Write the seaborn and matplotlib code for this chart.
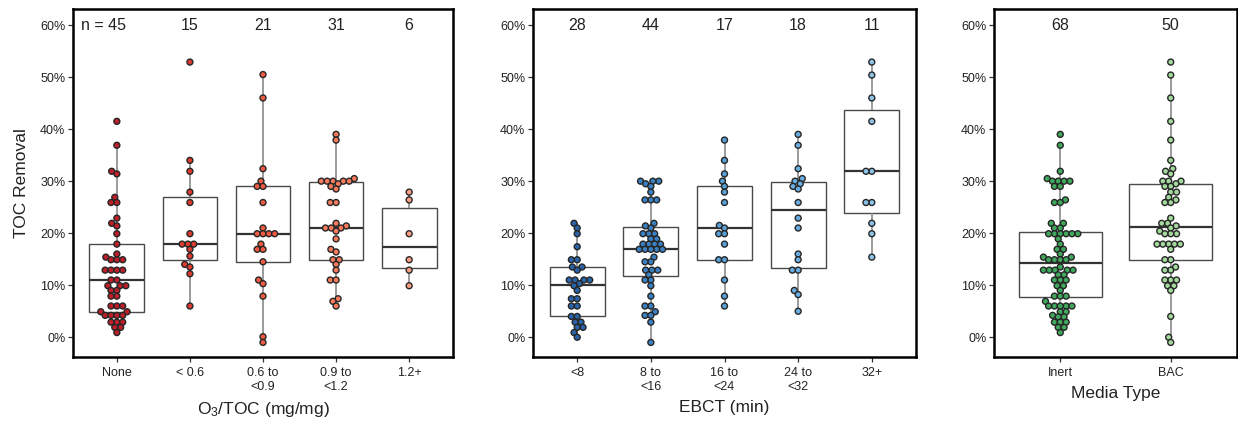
import numpy as np
import pandas as pd
import matplotlib
matplotlib.use("Agg")
import matplotlib.pyplot as plt
import seaborn as sns
from matplotlib.ticker import FuncFormatter

# ---------------- data (TOC removal, %) ----------------
o3_labels = ["None", "< 0.6", "0.6 to\n<0.9", "0.9 to\n<1.2", "1.2+"]
o3_none = [41.5, 36.9, 31.9, 31.4, 26.9, 25.9, 25.9, 22.9, 21.9, 21.4, 19.9, 17.9,
           16.0, 15.4, 14.9, 14.9, 14.9, 12.9, 12.9, 12.9, 12.9, 11.0, 11.0, 9.9,
           9.9, 9.9, 9.0, 9.0, 7.9, 7.9, 6.0, 6.0, 6.0, 4.9, 4.9, 4.2, 4.2, 4.2, 4.2,
           2.9, 2.9, 2.9, 1.9, 1.9, 0.9]
o3_lt06 = [52.9, 34.0, 31.9, 27.9, 25.9, 19.9, 17.9, 17.9, 17.9, 16.9, 15.6, 14.0,
           13.5, 12.2, 6.0]
o3_06_09 = [50.5, 46.0, 32.4, 30.0, 29.0, 29.0, 25.9, 21.0, 19.9, 19.9, 19.9, 19.9,
            17.9, 16.9, 16.9, 14.5, 11.0, 10.3, 7.9, 0.1, -1.0]
o3_09_12 = [39.0, 37.9, 30.5, 30.0, 30.0, 30.0, 30.0, 30.0, 29.5, 29.0, 28.5, 25.9,
            25.9, 21.9, 21.4, 21.0, 21.0, 21.0, 20.4, 18.9, 16.9, 16.4, 14.9, 14.9,
            14.0, 12.9, 11.0, 11.0, 7.4, 6.9, 6.0]
o3_12p = [27.9, 26.4, 19.9, 14.9, 12.9, 9.9]

ebct_labels = ["<8", "8 to\n<16", "16 to\n<24", "24 to\n<32", "32+"]
ebct_lt8 = [21.9, 21.0, 19.9, 17.4, 14.9, 14.9, 13.5, 13.5, 12.9, 11.0, 11.0, 11.0,
            11.0, 10.3, 9.9, 9.0, 7.4, 7.4, 6.0, 6.0, 4.0, 4.0, 2.9, 2.9, 1.9, 1.9,
            0.9, 0.0]
ebct_8_16 = [30.0, 30.0, 30.0, 29.5, 29.0, 27.9, 26.4, 26.4, 26.4, 21.9, 21.0, 21.4,
             19.9, 19.9, 19.9, 18.9, 18.9, 17.9, 17.9, 17.9, 17.9, 16.9, 16.9, 16.9,
             16.9, 16.9, 15.4, 14.5, 14.5, 12.9, 12.9, 12.9, 12.0, 11.0, 11.0, 9.9,
             7.9, 6.0, 6.0, 4.9, 4.2, 4.2, 2.9, -1.0]
ebct_16_24 = [37.9, 34.0, 31.4, 30.0, 29.0, 27.9, 25.9, 21.5, 21.0, 19.9, 19.9, 17.9,
              14.9, 14.9, 11.0, 7.9, 6.0]
ebct_24_32 = [39.0, 36.9, 32.4, 30.5, 30.0, 29.5, 29.0, 28.5, 25.9, 22.9, 21.0, 16.0,
              14.9, 12.9, 12.9, 9.0, 8.2, 5.0]
ebct_32p = [52.9, 50.4, 46.0, 41.5, 31.9, 31.9, 25.9, 25.9, 21.9, 19.9, 15.4]

media_labels = ["Inert", "BAC"]
media_inert = [39.0, 36.9, 31.9, 30.5, 30.0, 30.0, 30.0, 30.0, 29.0, 29.0, 26.4, 25.9,
               25.9, 21.9, 21.9, 21.0, 21.0, 19.9, 19.9, 19.9, 19.9, 19.9, 19.9, 18.9,
               17.9, 16.9, 16.9, 16.0, 15.4, 15.4, 14.9, 14.9, 14.9, 14.9, 13.5, 12.9,
               12.9, 12.9, 12.9, 12.9, 12.0, 12.0, 11.0, 11.0, 11.0, 9.9, 9.9, 9.0,
               7.9, 7.9, 7.9, 6.9, 6.0, 6.0, 6.0, 6.0, 6.0, 4.9, 4.9, 4.2, 3.9, 3.9,
               2.9, 2.9, 2.9, 1.9, 1.9, 0.9]
media_bac = [52.9, 50.4, 46.0, 41.5, 37.9, 34.0, 32.4, 31.9, 31.4, 30.0, 30.0, 30.0,
             29.5, 29.0, 29.0, 27.9, 27.9, 26.9, 26.4, 25.9, 25.9, 22.9, 21.9, 21.9,
             21.4, 21.0, 20.4, 19.9, 19.9, 19.9, 17.9, 17.9, 17.9, 17.9, 17.9, 16.9,
             14.9, 14.9, 13.5, 12.9, 12.9, 11.0, 11.0, 11.0, 9.9, 9.9, 9.0, 4.0, 0.0,
             -1.0]

panel_titles = ["O$_3$/TOC (mg/mg)", "EBCT (min)", "Media Type"]
y_ticks = [0, 10, 20, 30, 40, 50, 60]

# ---------------- style ----------------
sns.set_theme(style="white")
plt.rcParams["font.family"] = ["Liberation Sans", "DejaVu Sans"]
plt.rcParams["mathtext.fontset"] = "custom"
plt.rcParams["mathtext.rm"] = "Liberation Sans"
plt.rcParams["mathtext.it"] = "Liberation Sans:italic"

reds = ["#bd1f2a", "#dc3a2e", "#ef5a42", "#f87b5d", "#fca084"]
blues = ["#2b63a8", "#3a80c2", "#58a0d6", "#6aade0", "#8cc3e8"]
greens = ["#3fa85c", "#a3d99c"]


def make_df(labels, groups):
    rows = []
    for lab, vals in zip(labels, groups):
        for v in vals:
            rows.append((lab, v))
    return pd.DataFrame(rows, columns=["cat", "val"])


panels = [
    (o3_labels, [o3_none, o3_lt06, o3_06_09, o3_09_12, o3_12p], reds),
    (ebct_labels, [ebct_lt8, ebct_8_16, ebct_16_24, ebct_24_32, ebct_32p], blues),
    (media_labels, [media_inert, media_bac], greens),
]

fig = plt.figure(figsize=(12.38, 4.21), dpi=100)
W, H = 1238, 421
boxes_px = [(73, 453), (533, 916), (994, 1237)]
top_px, bot_px = 9, 357
swarm_colls = []

for i, ((labels, groups, pal), (x0, x1)) in enumerate(zip(panels, boxes_px)):
    ax = fig.add_axes([x0 / W, (H - bot_px) / H, (x1 - x0) / W, (bot_px - top_px) / H])
    df = make_df(labels, groups)
    sns.boxplot(data=df, x="cat", y="val", order=labels, width=0.75, showfliers=False,
                showcaps=False, whis=1.5, ax=ax, color="white", linecolor="#3a3a3a",
                linewidth=1.0,
                boxprops=dict(facecolor="white", edgecolor="#4a4a4a", linewidth=1.0),
                whiskerprops=dict(color="#8a8a8a", linewidth=1.2),
                medianprops=dict(color="#333333", linewidth=1.6))
    n_before = len(ax.collections)
    sns.swarmplot(data=df, x="cat", y="val", order=labels, hue="cat", hue_order=labels,
                  palette=pal, size=3.0, edgecolor="#262626", linewidth=1.0,
                  legend=False, ax=ax, zorder=3)
    swarm_colls.extend(ax.collections[n_before:])
    n = len(labels)
    ax.set_xlim(-0.6, n - 1 + 0.6)
    ax.set_ylim(-3.8, 63.1)
    ax.set_yticks(y_ticks)
    ax.yaxis.set_major_formatter(FuncFormatter(lambda v, p: f"{v:.0f}%"))
    ax.set_xticks(range(n))
    ax.set_xticklabels(labels, fontsize=9, color="#222222", linespacing=1.15)
    ax.tick_params(axis="y", labelsize=9, colors="#222222", length=3.5, width=0.9,
                   left=True, pad=2)
    ax.tick_params(axis="x", length=3.5, width=0.9, bottom=True, pad=4)
    ax.tick_params(axis="both", color="#333333")
    for sp in ax.spines.values():
        sp.set_visible(True)
        sp.set_color("black")
        sp.set_linewidth(1.8)
    ax.set_xlabel(panel_titles[i], fontsize=12.5, color="#222222", labelpad=5)
    if i == 0:
        ax.set_ylabel("TOC Removal", fontsize=12.5, color="#222222", labelpad=8)
    else:
        ax.set_ylabel("")
    for j, vals in enumerate(groups):
        if i == 0 and j == 0:
            ax.text(j + 0.12, 60, f"n = {len(vals)}", ha="right", va="center",
                    fontsize=11.5, color="#222222")
        else:
            ax.text(j, 60, f"{len(vals)}", ha="center", va="center", fontsize=11.5,
                    color="#222222")

# compute the swarm layout once, then draw the markers slightly larger
fig.canvas.draw()
for pc in swarm_colls:
    if "draw" in pc.__dict__:
        del pc.draw
    pc.set_sizes([4.3 ** 2])
    pc.set_linewidth(1.0)

fig.savefig("out.png", dpi=100)
